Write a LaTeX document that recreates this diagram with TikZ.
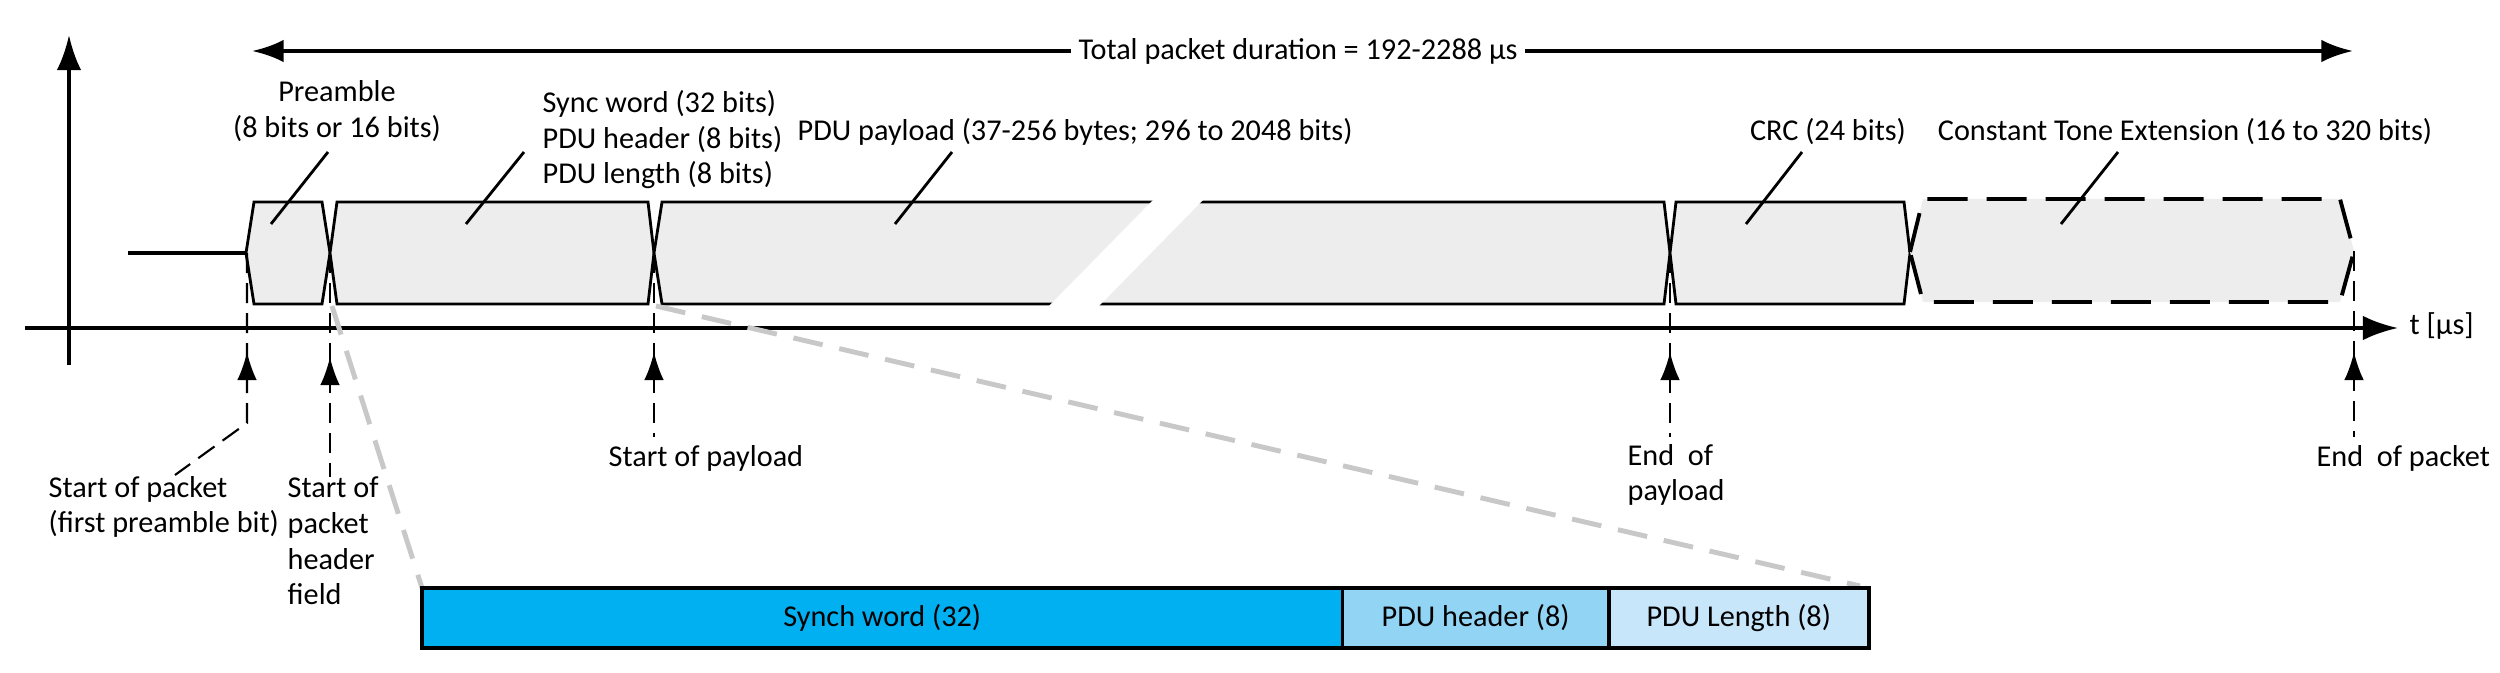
\documentclass[tikz,border=0pt]{standalone}
\usepackage{fontspec}
\setmainfont{Carlito}
\usetikzlibrary{arrows.meta}
\definecolor{boxgrey}{HTML}{EDEDED}
\definecolor{zoomgrey}{HTML}{C8C8C8}
\definecolor{swblue}{HTML}{00B0F0}
\definecolor{phblue}{HTML}{92D4F4}
\definecolor{plblue}{HTML}{C8E6F9}
\tikzset{
  field/.style={fill=boxgrey, draw=black, line width=0.8pt, line join=miter},
  ctefield/.style={fill=boxgrey, draw=black, line width=1.1pt, dash pattern=on 0.4cm off 0.19cm},
  sigline/.style={line width=1pt},
  axisarrow/.style={line width=1.1pt, -{Latex[length=10pt,width=7pt]}},
  dimarrow/.style={line width=1.1pt, -{Latex[length=9pt,width=6.4pt]}},
  marker/.style={line width=0.6pt, dash pattern=on 0.2cm off 0.1cm},
  markertip/.style={line width=0.6pt, -{Latex[length=8pt,width=5.6pt]}},
  leader/.style={line width=0.8pt},
  zoomline/.style={draw=zoomgrey, line width=1.4pt, dash pattern=on 0.3cm off 0.17cm},
  lbl/.style={inner sep=0pt},
  cell/.style={draw=black, line width=1.1pt, minimum height=0.6cm, inner sep=0pt, outer sep=0pt, anchor=north west}
}
\begin{document}
\begin{tikzpicture}[x=0.01cm, y=-0.01cm, font=\fontsize{8.6}{10.1}\selectfont]
\useasboundingbox (0,0) rectangle (2500,673);
% axes
\coordinate (yb) at (69,365); \coordinate (yt) at (69,35);
\draw[axisarrow] (yb) -- (yt);
\coordinate (xl) at (25,328); \coordinate (xr) at (2398,328);
\draw[axisarrow] (xl) -- (xr);
\node[lbl, anchor=west] (tlab) at (2409,326) {t [µs]};
% total duration
\node[inner sep=2pt] (title) at (1298,51) {Total packet duration = 192-2288 µs};
\coordinate (tl) at (252,51); \coordinate (tr) at (2353,51);
\draw[dimarrow] (title.west) -- (tl);
\draw[dimarrow] (title.east) -- (tr);
% signal
\coordinate (s0) at (128,253); \coordinate (s1) at (246,253);
\draw[sigline] (s0) -- (s1);
\filldraw[field] (246,253) -- (254,202) -- (322,202) -- (330,253) -- (322,304) -- (254,304) -- cycle;
\filldraw[field] (330,253) -- (337,202) -- (648,202) -- (654,253) -- (648,304) -- (337,304) -- cycle;
\filldraw[field] (654,253) -- (662,202) -- (1664,202) -- (1670,253) -- (1664,304) -- (662,304) -- cycle;
\fill[white] (1156,197) -- (1206,197) -- (1096,309) -- (1046,309) -- cycle;
\filldraw[field] (1670,253) -- (1676,202) -- (1904,202) -- (1910,253) -- (1904,304) -- (1676,304) -- cycle;
\filldraw[ctefield] (1910,252) -- (1923,199) -- (2340,199) -- (2354,251) -- (2340,302) -- (1923,302) -- cycle;
% top labels
\node[lbl, align=center] (pre) at (337,111) {Preamble\\(8 bits or 16 bits)};
\coordinate (preA) at (328,152); \coordinate (preB) at (271,224);
\draw[leader] (preA) -- (preB);
\node[lbl, align=left, anchor=west] (syn) at (542,140) {Sync word (32 bits)\\PDU header (8 bits)\\PDU length (8 bits)};
\coordinate (synA) at (524,152); \coordinate (synB) at (466,224);
\draw[leader] (synA) -- (synB);
\node[lbl, anchor=west] (pay) at (797,132) {PDU payload (37-256 bytes; 296 to 2048 bits)};
\coordinate (payA) at (952,152); \coordinate (payB) at (895,224);
\draw[leader] (payA) -- (payB);
\node[lbl] (crc) at (1828,132) {CRC (24 bits)};
\coordinate (crcA) at (1802,152); \coordinate (crcB) at (1746,224);
\draw[leader] (crcA) -- (crcB);
\node[lbl] (cte) at (2185,132) {Constant Tone Extension (16 to 320 bits)};
\coordinate (cteA) at (2118,152); \coordinate (cteB) at (2061,224);
\draw[leader] (cteA) -- (cteB);
% markers
\coordinate (m1t) at (247,253); \coordinate (m1b) at (247,423); \coordinate (m1e) at (175,475);
\coordinate (m1h) at (247,382); \coordinate (m1p) at (247,352);
\draw[marker] (m1t) -- (m1b) -- (m1e);
\draw[markertip] (m1h) -- (m1p);
\coordinate (m2t) at (330,253); \coordinate (m2b) at (330,477);
\coordinate (m2h) at (330,386); \coordinate (m2p) at (330,357);
\draw[marker] (m2t) -- (m2b);
\draw[markertip] (m2h) -- (m2p);
\coordinate (m3t) at (654,253); \coordinate (m3b) at (654,437);
\coordinate (m3h) at (654,382); \coordinate (m3p) at (654,352);
\draw[marker] (m3t) -- (m3b);
\draw[markertip] (m3h) -- (m3p);
\coordinate (m4t) at (1670,253); \coordinate (m4b) at (1670,437);
\coordinate (m4h) at (1670,382); \coordinate (m4p) at (1670,352);
\draw[marker] (m4t) -- (m4b);
\draw[markertip] (m4h) -- (m4p);
\coordinate (m5t) at (2354,251); \coordinate (m5b) at (2354,437);
\coordinate (m5h) at (2354,382); \coordinate (m5p) at (2354,352);
\draw[marker] (m5t) -- (m5b);
\draw[markertip] (m5h) -- (m5p);
% bottom labels
\node[lbl, align=left, anchor=west] (sopl) at (48,507) {Start of packet\\(first preamble bit)};
\node[lbl, align=left, anchor=west] (sohl) at (287,541) {Start of\\packet\\header\\field};
\node[lbl, anchor=west] (spll) at (608,458) {Start of payload};
\node[lbl, align=left, anchor=west] (eopl) at (1627,475) {End~ of\\payload};
\node[lbl, anchor=west] (epkl) at (2316,458) {End~ of packet};
% zoom lines
\coordinate (z1) at (332,306); \coordinate (z2) at (656,306);
\coordinate (z1e) at (422,588); \coordinate (z2e) at (1860,586);
\draw[zoomline] (z1) -- (z1e);
\draw[zoomline] (z2) -- (z2e);
% expanded header bar
\node[cell, fill=swblue, minimum width=9.2cm] (sw) at (422,588) {Synch word (32)};
\node[cell, fill=phblue, minimum width=2.66cm] (ph) at (sw.north east) {PDU header (8)};
\node[cell, fill=plblue, minimum width=2.6cm] (pl) at (ph.north east) {PDU Length (8)};
\end{tikzpicture}
\end{document}
